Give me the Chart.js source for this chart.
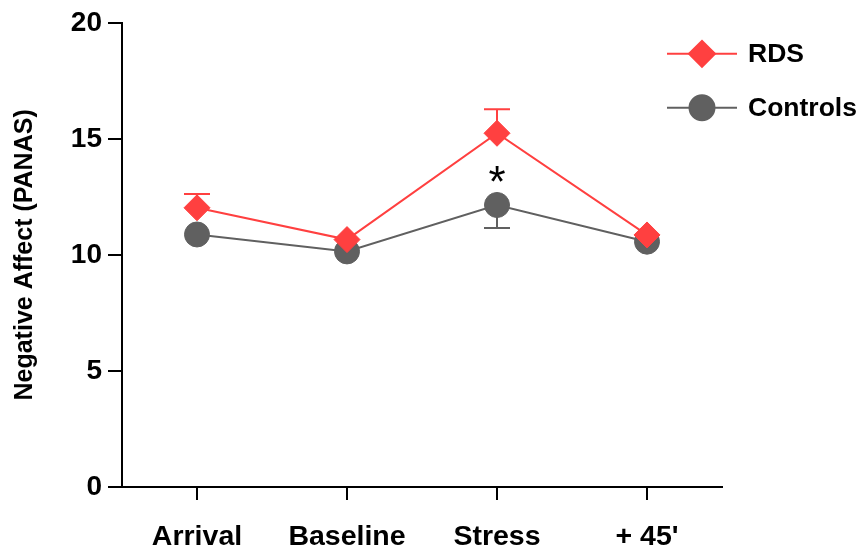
<!DOCTYPE html>
<html>
<head>
<meta charset="utf-8">
<script src="https://cdn.jsdelivr.net/npm/chart.js@4.4.1/dist/chart.umd.min.js"></script>
<style>
  html, body { margin: 0; padding: 0; background: #fff; }
  #wrap { width: 867px; height: 551px; position: relative; }
</style>
</head>
<body>
<div id="wrap"><canvas id="c" width="867" height="551"></canvas></div>
<script>
// Time points of the session
const categories = ['Arrival', 'Baseline', 'Stress', "+ 45'"];
// Mean negative affect (PANAS) per group
const rdsMeans = [12.03, 10.66, 15.24, 10.86];
const controlMeans = [10.88, 10.15, 12.15, 10.57];
// Standard error of the mean per group (0 = bar hidden inside the symbol)
const rdsSem = [0.59, 0, 1.04, 0];
const controlSem = [0, 0, 0.99, 0];
// Y axis ticks
const yTicks = [0, 5, 10, 15, 20];
// Significance marker above the Stress point
const sigLabel = '*';
const sigCategory = 'Stress';
const sigValue = 13.5;

const RED = 'rgb(255,64,64)';
const GREY = 'rgb(96,96,96)';
const FONT = "'Liberation Sans', Arial, sans-serif";

// Error bars: RDS upward, controls downward, drawn beneath the markers
const errorBars = {
  id: 'errorBars',
  beforeDatasetsDraw(chart) {
    const ctx = chart.ctx;
    const x = chart.scales.x, y = chart.scales.y;
    const sets = [
      { means: rdsMeans, sem: rdsSem, dir: 1, color: RED },
      { means: controlMeans, sem: controlSem, dir: -1, color: GREY }
    ];
    ctx.save();
    ctx.lineWidth = 2;
    sets.forEach(s => {
      ctx.strokeStyle = s.color;
      s.means.forEach((m, i) => {
        if (!s.sem[i]) return;
        const px = x.getPixelForValue(i);
        const p0 = y.getPixelForValue(m);
        const p1 = y.getPixelForValue(m + s.dir * s.sem[i]);
        ctx.beginPath();
        ctx.moveTo(px, p0); ctx.lineTo(px, p1);
        ctx.moveTo(px - 13, p1); ctx.lineTo(px + 13, p1);
        ctx.stroke();
      });
    });
    ctx.restore();
  }
};

// Legend with line + marker samples, and the significance asterisk
const extras = {
  id: 'extras',
  afterDraw(chart) {
    const ctx = chart.ctx;
    const area = chart.chartArea;
    ctx.save();
    chart.data.datasets.forEach((ds, i) => {
      const cy = area.top + 31 + i * 54;
      const x0 = area.right - 55;
      ctx.strokeStyle = ds.borderColor;
      ctx.lineWidth = 2;
      ctx.beginPath();
      ctx.moveTo(x0, cy); ctx.lineTo(x0 + 70, cy);
      ctx.stroke();
      ctx.fillStyle = ds.pointBackgroundColor;
      ctx.strokeStyle = ds.pointBackgroundColor;
      Chart.helpers.drawPoint(ctx, {
        pointStyle: ds.pointStyle, radius: ds.pointRadius, rotation: 0, borderWidth: 1
      }, x0 + 35, cy);
      ctx.fillStyle = '#000';
      ctx.font = 'bold 26.5px ' + FONT;
      ctx.textAlign = 'left';
      ctx.textBaseline = 'middle';
      ctx.fillText(ds.label, x0 + 81, cy + 1);
    });

    const sx = chart.scales.x.getPixelForValue(categories.indexOf(sigCategory));
    const sy = chart.scales.y.getPixelForValue(sigValue);
    ctx.font = '44px ' + FONT;
    ctx.textAlign = 'center';
    ctx.textBaseline = 'alphabetic';
    const m = ctx.measureText(sigLabel);
    const inkMid = (m.actualBoundingBoxAscent - m.actualBoundingBoxDescent) / 2;
    ctx.fillStyle = '#000';
    ctx.fillText(sigLabel, sx, sy + inkMid);
    ctx.restore();
  }
};

new Chart(document.getElementById('c'), {
  type: 'line',
  data: {
    labels: categories,
    datasets: [
      {
        label: 'RDS',
        data: rdsMeans,
        borderColor: RED,
        backgroundColor: RED,
        pointBackgroundColor: RED,
        pointBorderColor: RED,
        pointStyle: 'rectRot',
        pointRadius: 13,
        pointBorderWidth: 1,
        borderWidth: 2,
        tension: 0,
        fill: false
      },
      {
        label: 'Controls',
        data: controlMeans,
        borderColor: GREY,
        backgroundColor: GREY,
        pointBackgroundColor: GREY,
        pointBorderColor: GREY,
        pointStyle: 'circle',
        pointRadius: 12.5,
        pointBorderWidth: 1,
        borderWidth: 2,
        tension: 0,
        fill: false
      }
    ]
  },
  options: {
    responsive: false,
    animation: false,
    events: [],
    layout: { padding: { left: 0, top: 21, right: 145, bottom: 0 } },
    plugins: {
      legend: { display: false },
      tooltip: { enabled: false }
    },
    scales: {
      x: {
        type: 'category',
        offset: true,
        grid: { offset: false, drawOnChartArea: false, drawTicks: true, tickLength: 13, color: '#000', lineWidth: 2 },
        border: { color: '#000', width: 2 },
        ticks: { color: '#000', padding: 20, font: { family: FONT, size: 28.5, weight: 'bold' } },
        afterFit(scale) { scale.height = 64; }
      },
      y: {
        min: 0,
        max: 20,
        afterBuildTicks(scale) { scale.ticks = yTicks.map(v => ({ value: v })); },
        grid: { drawOnChartArea: false, drawTicks: true, tickLength: 14, color: '#000', lineWidth: 2 },
        border: { color: '#000', width: 2 },
        ticks: { color: '#000', padding: 6, font: { family: FONT, size: 28, weight: 'bold' } },
        title: {
          display: true,
          text: 'Negative Affect (PANAS)',
          color: '#000',
          font: { family: FONT, size: 25, weight: 'bold' },
          padding: { top: 10, bottom: 0 }
        },
        afterFit(scale) { scale.width = 122; }
      }
    }
  },
  plugins: [errorBars, extras]
});
</script>
</body>
</html>
